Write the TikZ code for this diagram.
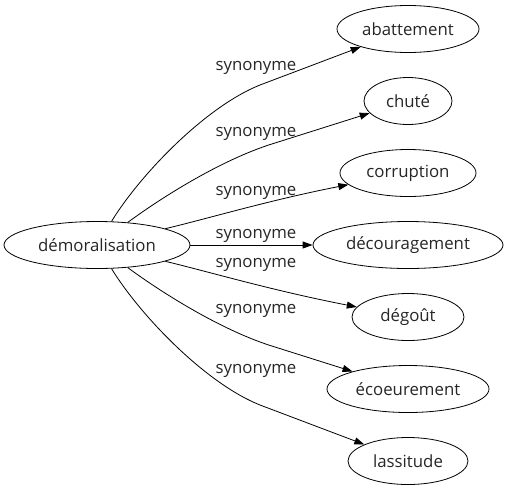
\documentclass[tikz,border=0pt]{standalone}
\usepackage{fontspec}
\setmainfont{Open Sans}
\usetikzlibrary{shapes.geometric,arrows.meta}
\begin{document}
\begin{tikzpicture}[x=1pt,y=-1pt,
  nd/.style={draw, ellipse, line width=0.8pt, inner sep=0pt, minimum height=47pt, font=\fontsize{16.8}{20}\selectfont, text=black!85},
  lbl/.style={anchor=base, inner sep=0pt, font=\fontsize{16.8}{20}\selectfont, text=black!85},
  edge/.style={line width=0.8pt, -{Triangle[length=10pt,width=7pt]}}]
\useasboundingbox (0,0) rectangle (508,491);
\node[nd, minimum width=186pt] (dem) at (97,245) {démoralisation};
\node[nd, minimum width=142pt] (aba) at (408,29) {abattement};
\node[nd, minimum width=88pt] (chu) at (408,101) {chuté};
\node[nd, minimum width=136pt] (cor) at (408,173) {corruption};
\node[nd, minimum width=190pt] (dec) at (408,245) {découragement};
\node[nd, minimum width=112pt] (deg) at (408,317) {dégoût};
\node[nd, minimum width=162pt] (eco) at (408,389) {écoeurement};
\node[nd, minimum width=120pt] (las) at (408,461) {lassitude};
\draw[edge] (dem) .. controls (140,175) and (205,107) .. (260,85) -- (aba);
\draw[edge] (dem) .. controls (165,195) and (225,158) .. (275,143) -- (chu);
\draw[edge] (dem) .. controls (210,218) and (270,200) .. (cor);
\draw[edge] (dem) -- (dec);
\draw[edge] (dem) .. controls (210,272) and (270,290) .. (deg);
\draw[edge] (dem) .. controls (165,295) and (225,332) .. (275,347) -- (eco);
\draw[edge] (dem) .. controls (140,315) and (205,383) .. (260,405) -- (las);
\node[lbl] (l1) at (256,70) {synonyme};
\node[lbl] (l2) at (256,136.5) {synonyme};
\node[lbl] (l3) at (256,195) {synonyme};
\node[lbl] (l4) at (256,238) {synonyme};
\node[lbl] (l5) at (256,267) {synonyme};
\node[lbl] (l6) at (256,313) {synonyme};
\node[lbl] (l7) at (256,373) {synonyme};
\end{tikzpicture}
\end{document}
